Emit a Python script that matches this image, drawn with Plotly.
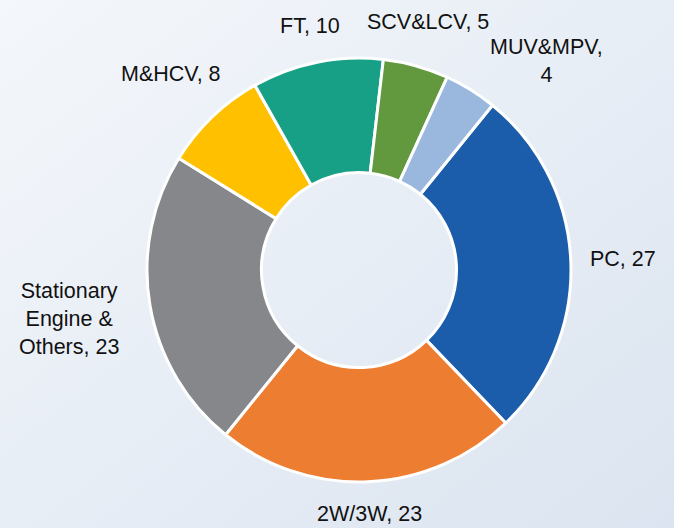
import base64
import math
import plotly.graph_objects as go

# ---- data ----
categories = ["PC", "2W/3W", "Stationary Engine & Others", "M&HCV", "FT", "SCV&LCV", "MUV&MPV"]
values = [27, 23, 23, 8, 10, 5, 4]
label_lines = [["PC, {v}"], ["2W/3W, {v}"], ["Stationary", "Engine &", "Others, {v}"],
               ["M&HCV, {v}"], ["FT, {v}"], ["SCV&LCV, {v}"], ["MUV&MPV,", "{v}"]]
colors = ["#1B5DAB", "#ED7D31", "#86878B", "#FFC000", "#17A085", "#62993E", "#9AB8DE"]

# ---- layout constants ----
W, H = 674, 528
CX, CY, R = 359, 270, 212
ROTATION = 39
FONT = "Liberation Sans, Arial, sans-serif"
FS = 21.5
GAP = 16
PAD = 8

svg = f'''<svg xmlns="http://www.w3.org/2000/svg" width="{W}" height="{H}" preserveAspectRatio="none">
<defs><linearGradient id="g" x1="0" y1="0" x2="1" y2="1">
<stop offset="0" stop-color="#f4f7fb"/><stop offset="1" stop-color="#dbe4f0"/>
</linearGradient></defs>
<rect width="{W}" height="{H}" fill="url(#g)"/></svg>'''
bg_uri = "data:image/svg+xml;base64," + base64.b64encode(svg.encode()).decode()

dom_x = [(CX - R) / W, (CX + R) / W]
dom_y = [1 - (CY + R) / H, 1 - (CY - R) / H]

fig = go.Figure(go.Pie(
    labels=categories,
    values=values,
    textinfo="none",
    sort=False,
    direction="clockwise",
    rotation=ROTATION,
    hole=0.46,
    marker=dict(colors=colors, line=dict(color="white", width=3)),
    domain=dict(x=dom_x, y=dom_y),
    showlegend=False,
    automargin=False,
))


def place(theta_deg, w, h):
    t = math.radians(theta_deg)
    s, c = math.sin(t), math.cos(t)
    rc = R + GAP + abs(s) * w / 2 + abs(c) * h / 2
    return CX + rc * s, CY - rc * c


def overlaps(a, b):
    return not (a[2] + PAD <= b[0] or b[2] + PAD <= a[0] or a[3] + PAD <= b[1] or b[3] + PAD <= a[1])


# labels placed outside each slice at its mid-angle, nudged round the ring if they collide
total = sum(values)
cum = 0
boxes = []
annotations = []
for lines, v in zip(label_lines, values):
    theta = ROTATION + 360 * (cum + v / 2) / total
    cum += v
    txt_lines = [l.format(v=v) for l in lines]
    w = max(len(l) for l in txt_lines) * FS * 0.56
    h = len(txt_lines) * FS * 1.3
    for _ in range(60):
        px, py = place(theta, w, h)
        box = (px - w / 2, py - h / 2, px + w / 2, py + h / 2)
        if not any(overlaps(box, b) for b in boxes):
            break
        theta += 1
    boxes.append(box)
    annotations.append(dict(
        x=px / W, y=1 - py / H, xref="paper", yref="paper",
        text="<br>".join(txt_lines), showarrow=False,
        xanchor="center", yanchor="middle", align="center",
        font=dict(family=FONT, size=FS, color="#111111"),
    ))

fig.update_layout(
    width=W, height=H,
    margin=dict(l=0, r=0, t=0, b=0),
    paper_bgcolor="#e8eef6",
    plot_bgcolor="rgba(0,0,0,0)",
    annotations=annotations,
    images=[dict(source=bg_uri, xref="paper", yref="paper", x=0, y=1,
                 sizex=1, sizey=1, xanchor="left", yanchor="top",
                 sizing="stretch", layer="below")],
)

fig.write_html("out.html", config={"displayModeBar": False},
               post_script="document.body.style.margin='0';document.body.style.overflow='hidden';")
